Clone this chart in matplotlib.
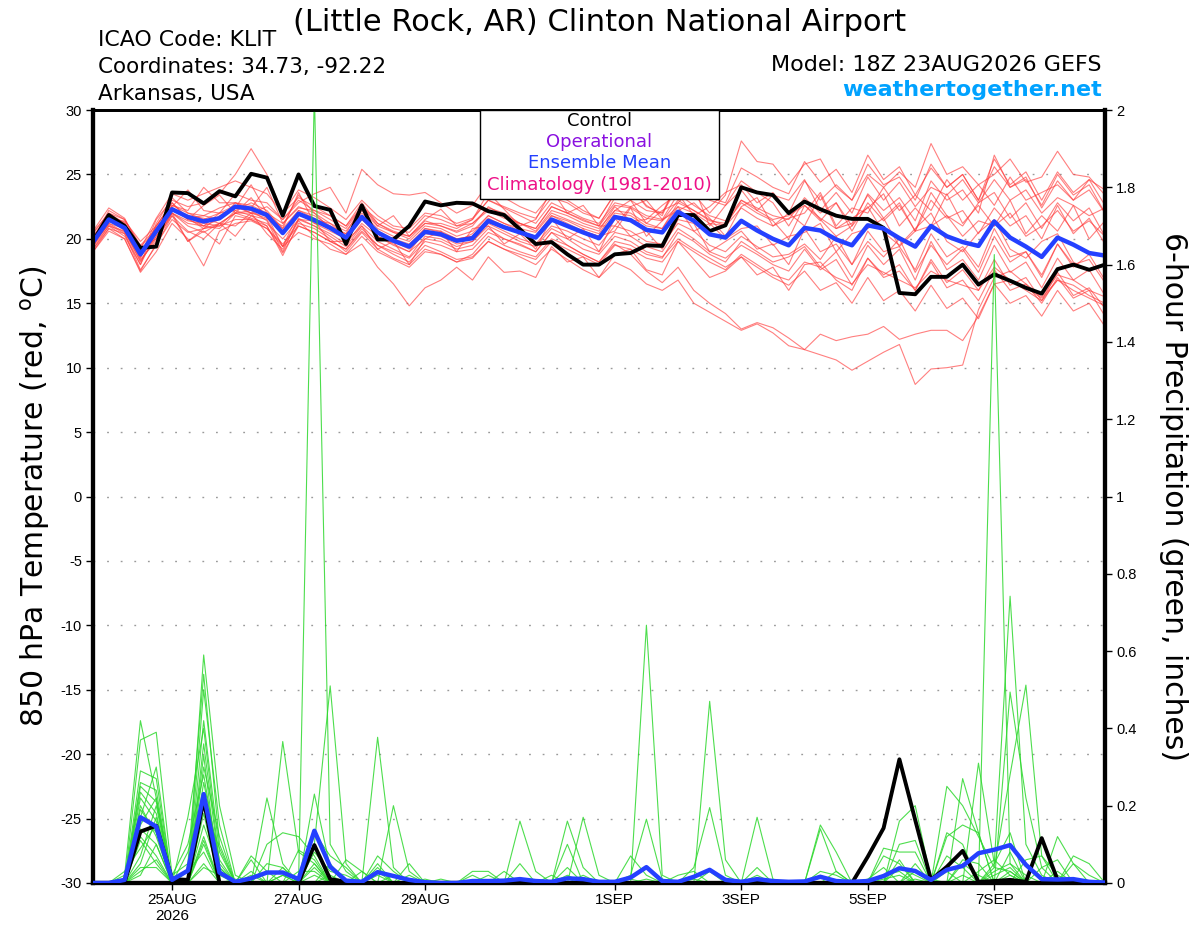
import numpy as np
import pandas as pd
import matplotlib
matplotlib.use("Agg")
import matplotlib.pyplot as plt
from matplotlib.patches import Rectangle

plt.rcParams['font.family'] = ['Liberation Sans', 'DejaVu Sans']
TXT = ['DejaVu Sans']

# 6-hourly GEFS steps, 18Z 23AUG2026 -> 18Z 08SEP2026
times = pd.date_range('2026-08-23 18:00', periods=65, freq='6h')

tick_dates = ['2026-08-25', '2026-08-27', '2026-08-29', '2026-09-01',
              '2026-09-03', '2026-09-05', '2026-09-07']
tick_labels = ['25AUG\n2026', '27AUG', '29AUG', '1SEP', '3SEP', '5SEP', '7SEP']

# 850 hPa temperature (C)
ctrl_temp = [19.8, 21.85, 21.0, 19.3, 19.4, 23.6, 23.55, 22.75, 23.7, 23.3, 25.05,
             24.75, 21.8, 25.0, 22.55, 22.25, 19.6, 22.6, 19.95, 19.95, 21.0, 22.9,
             22.6, 22.8, 22.75, 22.15, 21.85, 20.75, 19.6, 19.75, 18.8, 18.0, 18.0,
             18.8, 18.9, 19.5, 19.45, 21.85, 21.85, 20.6, 21.05, 24.0, 23.6, 23.4,
             22.0, 22.9, 22.3, 21.8, 21.55, 21.55, 20.85, 15.8, 15.7, 17.05, 17.05,
             18.0, 16.45, 17.25, 16.75, 16.2, 15.75, 17.65, 18.0, 17.6, 18.0]

mean_temp = [19.75, 21.5, 20.85, 18.8, 20.6, 22.3, 21.7, 21.35, 21.6, 22.5, 22.35,
             21.85, 20.45, 21.95, 21.45, 20.85, 20.1, 21.7, 20.5, 19.85, 19.4, 20.55,
             20.35, 19.85, 20.05, 21.4, 20.9, 20.5, 20.1, 21.5, 21.0, 20.5, 20.05,
             21.7, 21.45, 20.7, 20.5, 22.1, 21.4, 20.35, 20.1, 21.4, 20.65, 20.0,
             19.5, 20.85, 20.65, 19.95, 19.5, 21.05, 20.8, 20.05, 19.4, 21.0, 20.2,
             19.75, 19.45, 21.35, 20.1, 19.4, 18.6, 20.1, 19.55, 18.9, 18.7]

member_temp = [
    [19.5, 21.2, 20.5, 18.6, 21.0, 22.8, 21.5, 22.6, 23.4, 22.0, 23.2,
     21.6, 21.0, 23.4, 22.0, 20.8, 20.4, 22.6, 21.0, 21.8, 20.2, 21.5,
     22.3, 21.0, 21.5, 23.6, 22.3, 21.0, 21.5, 23.8, 22.0, 22.6, 21.0,
     23.2, 24.0, 22.6, 21.8, 24.6, 23.5, 22.0, 23.4, 27.6, 26.0, 25.8,
     24.2, 25.8, 26.2, 24.0, 23.0, 25.8, 24.2, 24.8, 23.0, 25.8, 24.0,
     25.0, 23.0, 25.6, 24.0, 24.8, 22.4, 24.5, 23.0, 23.8, 22.0],
    [20.2, 21.8, 21.3, 19.2, 20.0, 22.0, 21.2, 21.0, 20.8, 22.0, 21.6,
     21.2, 20.0, 21.5, 21.0, 20.4, 19.6, 21.2, 20.2, 19.5, 19.0, 20.0,
     19.8, 19.2, 19.5, 20.8, 20.0, 19.6, 19.0, 20.5, 19.5, 18.8, 18.2,
     19.6, 18.8, 17.5, 16.6, 17.8, 16.0, 15.0, 14.2, 13.0, 13.5, 13.1,
     12.3, 11.4, 11.0, 10.6, 9.8, 10.5, 11.2, 11.8, 8.7, 9.9, 10.0,
     10.2, 14.5, 17.0, 17.5, 16.5, 15.5, 17.2, 16.8, 16.0, 15.5],
    [19.4, 21.0, 20.6, 18.2, 20.2, 22.0, 19.8, 20.6, 19.6, 21.8, 21.5,
     20.8, 19.6, 21.0, 20.5, 19.8, 19.2, 20.8, 19.5, 18.8, 18.2, 19.5,
     19.0, 18.4, 18.6, 19.8, 19.2, 18.6, 18.0, 19.2, 18.4, 17.6, 17.0,
     18.2, 17.6, 16.5, 16.0, 16.8, 15.0, 14.3, 13.6, 12.9, 13.4, 12.7,
     11.7, 11.4, 12.6, 12.1, 12.4, 12.6, 13.2, 12.2, 12.6, 12.9, 12.9,
     12.1, 14.0, 16.5, 16.8, 16.0, 15.2, 16.8, 16.4, 15.6, 15.0],
    [19.0, 20.8, 20.4, 17.6, 19.5, 21.8, 20.6, 20.0, 21.2, 21.0, 22.0,
     20.4, 19.2, 21.4, 20.2, 19.2, 18.8, 19.6, 17.8, 16.5, 14.8, 16.2,
     16.8, 17.8, 16.8, 18.6, 17.4, 17.5, 17.0, 19.4, 18.2, 18.6, 17.0,
     18.8, 19.2, 17.6, 17.2, 19.8, 18.4, 17.0, 17.5, 18.6, 17.2, 17.8,
     16.0, 18.0, 18.2, 16.8, 16.0, 18.5, 17.0, 17.5, 16.0, 18.2, 16.2,
     16.8, 15.2, 17.6, 16.0, 16.5, 15.0, 17.0, 15.4, 16.0, 14.0],
    [20.0, 21.6, 21.0, 18.5, 21.5, 23.0, 22.5, 22.8, 23.5, 25.0, 27.0,
     25.0, 22.0, 23.2, 22.5, 21.8, 21.0, 22.5, 21.5, 20.8, 20.5, 21.8,
     21.5, 21.0, 21.2, 22.4, 22.0, 21.2, 20.8, 22.5, 22.0, 21.5, 21.0,
     21.0, 22.5, 23.0, 21.5, 22.2, 22.8, 21.6, 20.2, 22.5, 23.2, 21.0,
     22.0, 21.0, 23.4, 20.8, 21.6, 22.4, 23.5, 21.0, 22.4, 21.0, 23.5,
     21.2, 22.6, 21.0, 23.0, 20.4, 21.8, 20.6, 22.6, 20.0, 21.4],
    [19.6, 21.4, 21.0, 19.0, 20.8, 22.2, 21.8, 21.0, 22.0, 22.6, 22.0,
     22.5, 21.5, 22.8, 23.5, 24.0, 22.0, 25.4, 24.2, 23.5, 23.4, 23.6,
     22.8, 22.0, 22.6, 24.3, 23.2, 22.5, 22.0, 23.5, 23.0, 22.2, 21.6,
     23.5, 24.0, 22.5, 22.0, 24.5, 23.8, 23.0, 22.6, 24.5, 23.6, 22.8,
     21.0, 23.0, 21.5, 20.2, 21.0, 22.5, 20.5, 19.5, 20.8, 22.0, 19.8,
     19.0, 20.5, 21.5, 19.2, 18.5, 19.8, 20.4, 18.2, 17.5, 18.0],
    [20.4, 22.0, 21.2, 18.8, 20.4, 22.6, 22.0, 21.8, 21.5, 22.8, 22.6,
     22.0, 20.8, 22.2, 21.8, 21.0, 20.2, 22.0, 20.8, 20.2, 19.8, 21.0,
     20.8, 20.2, 20.6, 21.8, 21.2, 20.8, 20.5, 22.0, 21.5, 21.0, 20.6,
     22.5, 21.4, 21.5, 22.6, 23.5, 21.8, 22.5, 23.6, 24.2, 22.8, 23.6,
     22.0, 24.5, 23.0, 24.2, 23.0, 25.0, 24.0, 25.2, 24.0, 27.4, 25.0,
     25.6, 24.2, 25.0, 26.2, 24.4, 24.8, 26.8, 25.0, 24.8, 23.4],
    [19.2, 21.0, 20.2, 18.0, 21.2, 23.2, 22.0, 21.5, 22.0, 22.2, 21.8,
     21.5, 19.4, 21.5, 21.4, 19.8, 19.8, 21.0, 19.2, 19.8, 18.0, 20.0,
     20.6, 19.0, 20.8, 21.0, 19.6, 20.4, 19.2, 21.6, 20.0, 20.8, 19.0,
     21.6, 20.2, 20.6, 19.2, 21.5, 21.2, 19.0, 19.8, 20.6, 19.2, 19.6,
     18.0, 20.8, 19.0, 19.6, 18.0, 20.6, 19.0, 19.4, 17.6, 20.4, 18.6,
     19.4, 17.8, 20.8, 18.6, 19.0, 17.0, 19.6, 18.0, 18.4, 16.6],
    [20.0, 22.2, 21.5, 19.5, 20.8, 22.5, 23.8, 22.2, 22.0, 23.5, 23.0,
     22.8, 21.5, 23.0, 22.2, 21.8, 21.0, 22.8, 21.2, 20.5, 20.2, 21.2,
     21.0, 20.5, 21.0, 22.5, 21.8, 21.2, 20.6, 22.2, 21.8, 21.2, 20.8,
     22.2, 23.0, 21.2, 22.2, 22.8, 24.0, 21.0, 22.6, 23.8, 22.2, 23.4,
     23.0, 24.6, 22.2, 23.6, 22.0, 24.8, 23.0, 24.4, 22.5, 24.0, 23.4,
     24.6, 22.8, 24.6, 23.0, 23.8, 22.0, 23.2, 22.6, 21.8, 22.4],
    [19.5, 21.2, 20.8, 18.4, 19.8, 22.0, 21.0, 20.5, 21.2, 20.2, 21.8,
     21.0, 18.7, 21.2, 20.8, 20.0, 19.0, 20.5, 19.2, 18.5, 18.0, 19.2,
     18.8, 18.2, 18.8, 20.2, 19.5, 19.0, 18.6, 20.0, 19.5, 18.8, 18.2,
     19.8, 19.5, 18.8, 18.5, 20.5, 19.8, 18.8, 18.2, 19.8, 19.0, 18.2,
     18.6, 19.4, 17.8, 19.0, 17.0, 19.5, 18.0, 19.2, 16.8, 19.8, 17.6,
     18.4, 16.8, 19.5, 17.4, 18.2, 16.2, 18.5, 16.8, 17.6, 15.6],
    [20.2, 21.6, 21.0, 18.9, 21.0, 22.8, 21.6, 21.8, 22.4, 22.8, 22.2,
     22.0, 21.2, 22.5, 22.0, 21.2, 20.6, 22.2, 21.0, 20.5, 20.0, 21.2,
     21.2, 20.8, 21.5, 23.0, 22.5, 22.0, 21.6, 23.2, 22.8, 22.0, 21.6,
     23.5, 23.0, 22.2, 22.0, 24.0, 24.5, 23.2, 22.8, 25.5, 24.8, 24.0,
     23.5, 26.0, 24.4, 25.4, 23.6, 26.5, 24.6, 25.6, 23.4, 25.5, 24.0,
     25.0, 23.0, 26.2, 24.2, 25.2, 23.0, 25.2, 23.6, 24.6, 22.6],
    [19.8, 21.5, 21.2, 19.0, 20.5, 22.0, 21.4, 21.2, 21.0, 22.2, 22.8,
     22.2, 20.8, 23.6, 21.2, 21.0, 20.4, 21.5, 20.6, 20.0, 19.6, 20.8,
     20.6, 20.0, 20.2, 21.5, 21.0, 20.5, 20.2, 21.8, 21.2, 20.6, 20.2,
     20.6, 22.4, 20.2, 21.4, 22.5, 20.6, 21.2, 20.0, 20.8, 21.0, 19.5,
     20.2, 20.5, 21.2, 19.0, 20.4, 20.8, 21.6, 19.4, 20.6, 21.0, 21.8,
     20.2, 21.4, 21.0, 22.0, 20.2, 21.0, 22.2, 20.6, 21.4, 20.2],
    [19.6, 21.8, 21.0, 18.6, 20.2, 22.2, 21.8, 21.6, 21.2, 22.0, 22.0,
     21.6, 20.6, 22.0, 21.5, 21.2, 20.2, 21.8, 20.4, 19.8, 19.4, 20.8,
     20.5, 20.0, 20.2, 21.6, 21.0, 20.4, 20.0, 21.5, 21.0, 20.6, 20.2,
     22.0, 21.8, 21.0, 20.8, 22.5, 22.0, 21.2, 21.0, 23.0, 22.4, 21.8,
     21.5, 23.2, 22.0, 22.8, 21.0, 23.5, 22.2, 23.2, 21.4, 24.5, 23.0,
     23.8, 22.0, 26.5, 24.0, 24.6, 22.6, 25.0, 23.4, 24.2, 22.0],
    [20.5, 22.0, 21.5, 19.4, 20.6, 22.4, 21.5, 21.0, 21.5, 22.5, 22.0,
     21.8, 19.4, 22.0, 21.2, 20.6, 20.0, 21.5, 20.4, 19.8, 19.2, 20.4,
     20.2, 19.6, 19.8, 21.0, 20.4, 19.8, 19.4, 20.8, 20.2, 19.6, 19.0,
     20.5, 20.2, 19.4, 19.0, 20.8, 20.0, 19.0, 18.5, 19.5, 18.8, 18.0,
     17.5, 19.2, 17.6, 18.4, 16.4, 18.5, 17.2, 18.0, 16.0, 18.4, 16.6,
     17.6, 16.0, 18.4, 16.4, 17.0, 15.2, 17.4, 15.6, 16.2, 14.6],
    [19.0, 20.6, 20.0, 17.5, 19.6, 21.5, 20.5, 20.8, 21.0, 21.5, 21.5,
     21.0, 18.9, 21.0, 20.5, 19.8, 19.2, 20.6, 19.5, 19.0, 18.5, 19.8,
     19.5, 19.0, 19.2, 20.5, 20.0, 19.5, 19.0, 20.5, 20.0, 19.2, 18.8,
     20.2, 19.8, 19.0, 18.6, 20.0, 19.2, 18.5, 17.8, 18.6, 17.8, 17.0,
     16.4, 17.5, 16.0, 16.6, 15.0, 17.0, 15.2, 16.0, 14.4, 16.4, 14.6,
     15.4, 13.8, 16.5, 15.0, 15.6, 14.0, 16.0, 14.4, 15.0, 13.2],
    [19.9, 21.3, 21.4, 19.8, 21.0, 22.6, 22.2, 24.0, 22.8, 22.8, 22.4,
     24.0, 21.2, 22.4, 22.2, 21.5, 20.8, 22.5, 21.2, 20.6, 20.2, 21.4,
     21.0, 20.6, 21.2, 22.2, 21.6, 21.2, 20.8, 22.5, 22.0, 21.4, 21.0,
     22.6, 22.4, 21.6, 21.4, 23.0, 22.2, 21.5, 21.0, 22.4, 21.6, 21.0,
     21.6, 22.0, 23.6, 21.0, 22.4, 22.0, 24.0, 22.2, 23.4, 22.2, 24.6,
     23.0, 24.2, 22.6, 24.8, 23.0, 23.6, 24.2, 23.0, 24.6, 23.8],
    [19.4, 21.6, 20.6, 18.3, 20.0, 21.8, 19.8, 20.8, 21.2, 22.0, 22.2,
     21.4, 19.0, 21.6, 21.0, 20.2, 19.4, 21.0, 19.8, 19.2, 18.6, 20.2,
     20.0, 19.4, 19.8, 21.2, 20.6, 20.0, 19.6, 21.0, 20.6, 20.0, 19.5,
     21.0, 20.6, 19.8, 19.6, 21.2, 20.6, 19.5, 19.0, 20.2, 19.4, 18.6,
     18.8, 19.6, 18.4, 20.2, 18.0, 19.8, 18.6, 20.0, 17.4, 19.5, 18.0,
     19.2, 17.4, 20.2, 18.2, 19.0, 17.2, 19.6, 17.8, 18.8, 16.8],
    [20.6, 22.4, 21.6, 19.2, 21.6, 23.5, 23.0, 23.5, 24.0, 24.5, 24.0,
     23.5, 22.0, 23.8, 23.2, 22.4, 21.5, 23.0, 21.8, 21.0, 20.8, 22.0,
     21.8, 21.2, 21.6, 23.0, 22.4, 21.8, 21.2, 22.8, 22.2, 21.6, 21.2,
     22.8, 22.5, 21.8, 21.5, 23.5, 22.6, 21.8, 21.4, 23.0, 22.2, 21.5,
     21.8, 22.6, 21.4, 22.8, 20.6, 22.8, 21.4, 22.6, 20.6, 23.0, 21.6,
     22.2, 20.4, 22.4, 21.0, 21.8, 20.0, 22.6, 20.4, 21.6, 19.6],
    [19.7, 21.1, 20.4, 18.0, 20.5, 22.4, 21.6, 20.8, 21.8, 22.4, 24.2,
     22.0, 20.6, 22.2, 21.6, 20.8, 20.0, 21.6, 20.2, 19.6, 19.0, 20.6,
     20.4, 19.8, 20.4, 21.8, 21.2, 20.6, 20.2, 21.8, 21.4, 20.8, 20.4,
     22.2, 22.0, 21.2, 20.8, 22.8, 22.2, 21.4, 21.2, 22.8, 22.0, 21.4,
     20.0, 22.6, 21.6, 20.8, 21.2, 23.4, 21.6, 22.8, 20.6, 23.6, 21.8,
     21.0, 22.8, 23.6, 21.6, 22.8, 20.8, 22.8, 21.4, 22.4, 20.2],
    [19.2, 20.8, 20.0, 17.4, 19.0, 21.2, 20.0, 17.9, 20.6, 21.2, 21.4,
     20.8, 19.4, 20.5, 20.0, 19.6, 18.8, 20.2, 19.0, 18.4, 17.8, 19.0,
     18.8, 18.2, 18.5, 19.8, 19.2, 18.8, 18.4, 19.8, 19.2, 18.6, 18.0,
     19.5, 19.2, 18.5, 18.2, 19.8, 19.0, 18.2, 17.6, 18.8, 18.0, 17.2,
     16.8, 18.2, 17.8, 17.0, 16.5, 18.0, 17.4, 16.8, 16.2, 17.5, 16.8,
     16.4, 16.0, 17.8, 16.8, 16.2, 15.4, 16.8, 16.0, 15.4, 14.8],
]

# 6-hour precipitation (inches)
ctrl_prcp = [0, 0, 0.003, 0.133, 0.148, 0.01, 0.008, 0.215, 0, 0,
             0, 0, 0, 0, 0.098, 0.01, 0.003, 0, 0, 0,
             0, 0, 0, 0, 0, 0, 0, 0, 0, 0,
             0, 0, 0, 0, 0, 0, 0, 0, 0, 0,
             0, 0, 0, 0, 0, 0, 0, 0, 0, 0.068,
             0.142, 0.32, 0.163, 0.008, 0.042, 0.083, 0.003, 0.005, 0.008, 0.003,
             0.116, 0.008, 0, 0, 0]

mean_prcp = [0, 0, 0.008, 0.17, 0.146, 0.008, 0.032, 0.23, 0.027, 0.003,
             0.012, 0.027, 0.027, 0.01, 0.135, 0.042, 0.006, 0.003, 0.028, 0.018,
             0.008, 0.002, 0, 0, 0.005, 0.005, 0.006, 0.01, 0.005, 0.003,
             0.012, 0.01, 0.003, 0.003, 0.014, 0.041, 0.005, 0.003, 0.016, 0.034,
             0.008, 0.003, 0.01, 0.005, 0.003, 0.004, 0.016, 0.005, 0.003, 0.005,
             0.018, 0.038, 0.031, 0.008, 0.034, 0.044, 0.077, 0.086, 0.098, 0.047,
             0.01, 0.009, 0.01, 0.003, 0.001]

member_prcp = [
    [0, 0, .02, .42, .22, .01, 0, .59, .2, .02,
     0, 0, 0, 0, 2.05, .1, .03, 0, 0, 0,
     0, 0, 0, 0, 0, 0, 0, 0, 0, 0,
     .04, 0, 0, 0, 0, .667, .02, 0, 0, 0,
     0, 0, 0, 0, 0, 0, 0, 0, 0, 0,
     0, 0, 0, 0, 0, 0, 0, .05, .13, 0,
     0, 0, 0, 0, 0],
    [0, 0, 0, .37, .39, .02, .05, .54, .1, 0,
     0, .22, .05, 0, .1, .51, .05, 0, .05, 0,
     0, 0, 0, 0, 0, 0, 0, 0, 0, 0,
     0, 0, 0, 0, 0, 0, 0, 0, 0, .47,
     .06, 0, 0, 0, 0, 0, 0, 0, 0, 0,
     0, 0, 0, 0, 0, 0, .31, .05, .742, .1,
     .02, 0, 0, 0, 0],
    [0, 0, 0, .29, .27, 0, 0, .5, .15, 0,
     0, 0, .366, .08, .05, 0, 0, 0, .377, .04,
     0, 0, 0, 0, 0, 0, 0, .16, .03, 0,
     0, 0, 0, 0, 0, 0, 0, 0, 0, 0,
     0, 0, 0, 0, 0, 0, 0, 0, 0, 0,
     0, 0, 0, 0, 0, 0, 0, 1.626, .05, .02,
     0, 0, 0, 0, 0],
    [0, 0, 0, .26, .24, 0, 0, .42, .08, 0,
     .06, 0, 0, 0, .23, .04, 0, 0, 0, .2,
     .03, 0, 0, 0, 0, 0, 0, 0, 0, 0,
     0, 0, 0, 0, 0, 0, 0, 0, 0, 0,
     0, 0, .17, .01, 0, 0, 0, 0, 0, 0,
     0, 0, 0, 0, 0, .27, .13, 0, .494, .22,
     .04, 0, 0, 0, 0],
    [0, 0, 0, .25, .21, 0, .17, .4, .05, 0,
     0, .1, .13, .12, .07, 0, 0, 0, 0, 0,
     0, 0, 0, 0, 0, 0, 0, 0, 0, 0,
     .16, .04, 0, 0, 0, 0, 0, 0, 0, 0,
     0, 0, 0, 0, 0, 0, 0, 0, 0, 0,
     0, 0, 0, 0, .25, .2, .12, .04, .28, .512,
     .07, .02, 0, 0, 0],
    [0, 0, 0, .235, .18, 0, 0, .36, .04, 0,
     0, 0, 0, 0, .13, .07, .04, 0, 0, 0,
     0, 0, 0, 0, 0, 0, 0, 0, 0, 0,
     0, .17, .02, 0, 0, 0, 0, 0, 0, 0,
     0, 0, 0, 0, 0, 0, .15, .08, 0, 0,
     0, .16, .2, .01, 0, 0, 0, 0, 0, 0,
     0, .12, .05, 0, 0],
    [0, 0, 0, .22, .16, 0, 0, .33, 0, 0,
     .02, 0, 0, .085, .06, 0, 0, 0, .07, .03,
     0, 0, 0, 0, 0, 0, 0, 0, 0, 0,
     0, 0, 0, 0, .02, .165, .01, 0, 0, 0,
     0, 0, 0, 0, 0, 0, 0, 0, 0, 0,
     0, .1, .11, 0, .12, .15, .13, 0, 0, 0,
     0, 0, .07, .05, 0],
    [0, 0, 0, .19, .13, 0, 0, .3, .12, 0,
     0, .05, .04, 0, 0, 0, 0, 0, .04, 0,
     .05, 0, 0, 0, .03, .03, 0, 0, 0, 0,
     0, 0, 0, 0, 0, 0, 0, 0, .04, .195,
     .02, 0, 0, 0, 0, 0, 0, 0, 0, 0,
     .09, .08, .08, 0, .13, .1, 0, 0, .08, 0,
     .04, .06, 0, 0, 0],
    [0, 0, 0, .17, .3, 0, 0, .26, .06, 0,
     0, 0, 0, 0, .04, 0, .06, .03, 0, 0,
     0, 0, 0, 0, 0, 0, .03, 0, 0, 0,
     .1, 0, 0, 0, 0, 0, 0, 0, 0, 0,
     0, 0, 0, 0, 0, 0, .14, .03, 0, 0,
     .07, .05, 0, 0, 0, 0, 0, .03, .05, 0,
     0, 0, .05, .02, 0],
    [0, 0, 0, .14, .1, 0, .08, .22, 0, 0,
     0, 0, .04, 0, 0, .05, 0, .03, 0, 0,
     0, 0, 0, 0, 0, 0, 0, .05, 0, 0,
     0, 0, 0, 0, 0, 0, 0, 0, 0, 0,
     0, 0, .04, 0, 0, 0, 0, 0, 0, 0,
     0, .06, 0, 0, 0, .06, .05, 0, 0, .06,
     .07, 0, 0, 0, 0],
    [0, 0, 0, .12, .07, 0, 0, .18, 0, 0,
     0, 0, 0, .03, .03, 0, 0, 0, 0, 0,
     0, 0, 0, 0, 0, 0, 0, 0, 0, 0,
     0, 0, 0, 0, .07, .02, 0, .02, .03, 0,
     0, 0, 0, 0, 0, 0, 0, 0, 0, .01,
     .04, 0, .05, 0, .07, .04, 0, 0, 0, 0,
     0, 0, 0, 0, 0],
    [0, 0, 0, .11, .05, 0, 0, .15, .03, 0,
     0, 0, 0, 0, 0, 0, 0, 0, .03, 0,
     0, .01, 0, 0, 0, 0, 0, 0, 0, .02,
     0, 0, 0, 0, 0, 0, 0, 0, 0, 0,
     0, 0, 0, 0, 0, 0, .03, .02, 0, 0,
     0, 0, 0, 0, 0, 0, 0, .02, .04, 0,
     0, 0, 0, 0, 0],
    [0, 0, .03, .09, .15, 0, 0, .11, 0, 0,
     .07, .03, 0, 0, .02, 0, 0, 0, 0, 0,
     0, 0, .01, 0, 0, 0, 0, 0, 0, 0,
     0, 0, 0, 0, 0, 0, 0, 0, 0, 0,
     0, 0, 0, 0, 0, 0, 0, 0, 0, 0,
     0, .04, .02, 0, 0, 0, .03, .06, .02, 0,
     0, 0, 0, 0, 0],
    [0, 0, 0, .07, .2, 0, .03, .08, 0, 0,
     0, 0, 0, 0, 0, .02, 0, 0, 0, .02,
     0, 0, 0, 0, 0, 0, 0, 0, 0, 0,
     0, 0, 0, 0, .01, 0, 0, 0, .01, 0,
     0, 0, 0, 0, 0, 0, 0, 0, 0, 0,
     0, 0, 0, 0, .03, 0, 0, 0, .03, 0,
     0, 0, 0, 0, 0],
    [0, 0, 0, .04, .04, 0, 0, .05, 0, 0,
     0, 0, .02, 0, 0, 0, 0, 0, 0, 0,
     0, 0, 0, 0, 0, 0, 0, 0, 0, 0,
     0, 0, 0, 0, 0, .01, 0, 0, 0, 0,
     0, 0, 0, 0, 0, 0, .02, 0, 0, 0,
     .02, .03, 0, 0, 0, .02, 0, 0, 0, 0,
     0, .03, 0, 0, 0],
    [0, 0, 0, .03, .06, 0, 0, .04, .02, 0,
     0, 0, 0, 0, 0, 0, 0, 0, 0, 0,
     0, 0, 0, 0, .02, 0, 0, 0, 0, 0,
     0, 0, 0, 0, 0, 0, 0, 0, 0, 0,
     0, 0, 0, 0, 0, 0, 0, 0, 0, 0,
     0, 0, 0, 0, 0, 0, 0, .04, .03, 0,
     0, 0, 0, 0, 0],
    [0, 0, 0, .02, .1, 0, 0, .2, .09, 0,
     .03, 0, 0, 0, .05, 0, 0, 0, 0, 0,
     0, 0, 0, 0, 0, .02, 0, 0, 0, 0,
     0, 0, 0, 0, 0, 0, 0, 0, 0, .03,
     0, 0, 0, 0, 0, 0, 0, .03, 0, 0,
     0, 0, .03, 0, 0, 0, 0, 0, 0, 0,
     0, 0, 0, 0, 0],
    [0, 0, 0, .05, .17, .02, .1, .28, .04, 0,
     0, 0, 0, 0, 0, 0, 0, 0, 0, 0,
     .02, 0, 0, 0, 0, 0, 0, 0, 0, 0,
     0, 0, 0, 0, 0, 0, 0, 0, 0, 0,
     0, 0, .02, 0, 0, 0, 0, 0, 0, 0,
     0, 0, 0, 0, 0, .05, .02, 0, 0, 0,
     0, 0, 0, 0, 0],
    [0, 0, 0, .15, .22, 0, 0, .12, 0, 0,
     0, 0, .02, 0, .08, .03, .02, 0, 0, 0,
     0, 0, 0, 0, 0, 0, 0, 0, 0, 0,
     0, .02, 0, 0, 0, 0, 0, 0, 0, 0,
     0, 0, 0, 0, 0, 0, 0, 0, 0, 0,
     .01, .02, 0, 0, 0, 0, 0, 0, .02, 0,
     0, 0, 0, 0, 0],
    [0, 0, 0, .2, .12, 0, 0, .1, 0, .01,
     0, 0, 0, 0, .1, 0, 0, 0, .02, 0,
     0, 0, 0, 0, 0, 0, 0, 0, 0, 0,
     .02, 0, 0, 0, 0, 0, 0, 0, 0, 0,
     0, 0, 0, 0, 0, 0, 0, 0, 0, 0,
     0, 0, .01, 0, 0, 0, 0, .01, 0, 0,
     0, 0, 0, 0, 0],
]

RED = '#ff3b3b'
GREEN = '#2ed82e'
BLUE = '#2440ff'

fig = plt.figure(figsize=(12, 9.27), dpi=100)
ax = fig.add_axes([0.0775, 0.0475, 0.8433, 0.8338])
ax2 = ax.twinx()

for m in member_temp:
    ax.plot(times, m, color=RED, lw=0.8, alpha=0.65, zorder=2)
ax.plot(times, ctrl_temp, color='black', lw=2.8, zorder=4)
ax.plot(times, mean_temp, color=BLUE, lw=3.2, zorder=5)

for m in member_prcp:
    ax2.plot(times, m, color=GREEN, lw=0.8, alpha=0.85, zorder=2)
ax2.plot(times, ctrl_prcp, color='black', lw=2.8, zorder=4)
ax2.plot(times, mean_prcp, color=BLUE, lw=3.2, zorder=5)

ax.set_xlim(times[0], times[-1])
ax.set_ylim(-30, 30)
ax2.set_ylim(0, 2)

ax.set_yticks(np.arange(-30, 31, 5))
ax.set_yticklabels([str(v) for v in range(-30, 31, 5)])
ax2.set_yticks(np.arange(0, 2.01, 0.2))
ax2.set_yticklabels(['%g' % round(v, 1) for v in np.arange(0, 2.01, 0.2)])
ax.set_xticks(pd.to_datetime(tick_dates))
ax.set_xticklabels(tick_labels)

ax.yaxis.grid(True, linestyle=(0, (1.3, 8.5)), color='#9a9a9a', lw=1.0)
ax.set_axisbelow(True)

ax.tick_params(axis='y', labelsize=10.5, length=5, width=1, direction='out', pad=3)
ax.tick_params(axis='x', labelsize=11, length=5, width=1, direction='out', pad=2)
ax2.tick_params(axis='y', labelsize=10.5, length=5, width=1, direction='out', pad=3)

for a in (ax, ax2):
    a.spines['left'].set_linewidth(3)
    a.spines['right'].set_linewidth(3)
    a.spines['bottom'].set_linewidth(3)
    a.spines['top'].set_linewidth(2)

ax.set_ylabel('850 hPa Temperature (red, $^\\mathrm{o}$C)', fontsize=21.5,
              family=TXT, labelpad=6)
ax2.set_ylabel('6-hour Precipitation (green, inches)', fontsize=21.5,
               family=TXT, rotation=-90, labelpad=37)

# legend box at top of the plot
ax2.add_patch(Rectangle((0.3824, 0.8849), 0.2362, 0.1151, transform=ax2.transAxes,
                        facecolor='white', edgecolor='black', lw=1, zorder=10))
legend_items = [('Control', 'black'), ('Operational', '#8a10e0'),
                ('Ensemble Mean', BLUE), ('Climatology (1981-2010)', '#ee1188')]
for k, (txt, col) in enumerate(legend_items):
    ax2.text(0.5005, 0.986 - k * 0.0275, txt, color=col, fontsize=13, family=TXT,
             ha='center', va='center', transform=ax2.transAxes, zorder=11)

fig.text(0.5, 0.976, '(Little Rock, AR) Clinton National Airport', fontsize=22,
         family=TXT, ha='center', va='center')
fig.text(0.0815, 0.957, 'ICAO Code: KLIT', fontsize=15.8, family=TXT,
         ha='left', va='center')
fig.text(0.0815, 0.928, 'Coordinates: 34.73, -92.22', fontsize=15.5, family=TXT,
         ha='left', va='center')
fig.text(0.0815, 0.899, 'Arkansas, USA', fontsize=15.5, family=TXT,
         ha='left', va='center')
fig.text(0.918, 0.930, 'Model: 18Z 23AUG2026 GEFS', fontsize=16, family=TXT,
         ha='right', va='center')
fig.text(0.918, 0.903, 'weathertogether.net', fontsize=16, fontweight='bold',
         family=TXT, color='#00a2ff', ha='right', va='center')

fig.savefig('out.png', dpi=100)
